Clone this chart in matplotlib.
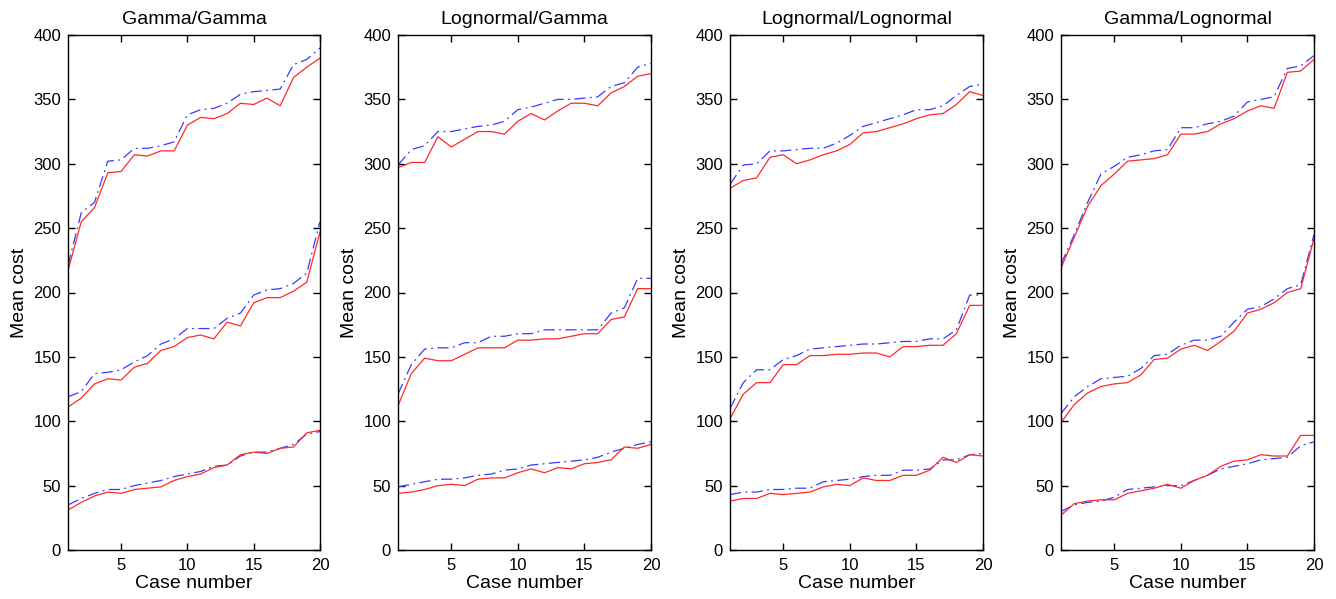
import matplotlib
matplotlib.use("Agg")
import matplotlib.pyplot as plt
import numpy as np

plt.rcParams['font.family'] = ['Liberation Sans', 'DejaVu Sans']

case_numbers = list(range(1, 21))
titles = ["Gamma/Gamma", "Lognormal/Gamma", "Lognormal/Lognormal", "Gamma/Lognormal"]

# Gamma/Gamma
gg_red_top = [217, 255, 266, 293, 294, 307, 306, 310, 310, 330, 336, 335, 339, 347, 346, 351, 345, 367, 375, 382]
gg_blue_top = [221, 262, 270, 302, 303, 312, 312, 314, 317, 338, 342, 343, 347, 354, 356, 357, 358, 377, 381, 390]
gg_red_mid = [111, 118, 129, 133, 132, 142, 145, 155, 158, 165, 167, 164, 177, 174, 192, 196, 196, 201, 208, 247]
gg_blue_mid = [119, 123, 137, 138, 140, 146, 151, 160, 164, 172, 172, 172, 180, 184, 198, 202, 203, 207, 215, 255]
gg_red_low = [31, 37, 42, 45, 44, 47, 48, 49, 54, 57, 59, 64, 66, 74, 76, 75, 79, 80, 91, 93]
gg_blue_low = [35, 40, 44, 47, 47, 50, 52, 54, 57, 59, 61, 65, 66, 73, 76, 76, 79, 82, 90, 92]

# Lognormal/Gamma
lg_red_top = [297, 301, 301, 321, 313, 319, 325, 325, 323, 333, 339, 334, 341, 347, 347, 345, 355, 360, 368, 370]
lg_blue_top = [299, 311, 314, 325, 325, 327, 329, 330, 333, 342, 344, 347, 350, 350, 351, 352, 360, 363, 375, 378]
lg_red_mid = [112, 137, 149, 147, 147, 152, 157, 157, 157, 163, 163, 164, 164, 166, 168, 168, 179, 181, 203, 203]
lg_blue_mid = [121, 144, 156, 157, 157, 161, 161, 166, 166, 168, 168, 171, 171, 171, 171, 171, 184, 188, 211, 211]
lg_red_low = [44, 45, 47, 50, 51, 50, 55, 56, 56, 60, 63, 60, 64, 63, 67, 68, 70, 80, 79, 82]
lg_blue_low = [49, 51, 53, 55, 55, 56, 58, 59, 62, 63, 66, 67, 68, 69, 70, 72, 76, 79, 82, 84]

# Lognormal/Lognormal
ll_red_top = [281, 287, 289, 305, 307, 300, 303, 307, 310, 315, 324, 325, 328, 331, 335, 338, 339, 346, 356, 353]
ll_blue_top = [284, 299, 300, 310, 310, 311, 312, 312, 316, 322, 329, 332, 335, 338, 342, 342, 345, 353, 360, 362]
ll_red_mid = [102, 121, 130, 130, 144, 144, 151, 151, 152, 152, 153, 153, 150, 158, 158, 159, 159, 168, 190, 190]
ll_blue_mid = [110, 130, 140, 140, 148, 151, 156, 157, 158, 159, 160, 160, 161, 162, 162, 164, 164, 171, 198, 198]
ll_red_low = [38, 40, 40, 44, 43, 44, 45, 49, 51, 50, 56, 54, 54, 58, 58, 62, 72, 68, 74, 73]
ll_blue_low = [43, 45, 45, 47, 47, 48, 48, 53, 54, 55, 57, 58, 58, 62, 62, 63, 70, 70, 74, 75]

# Gamma/Lognormal
gl_red_top = [219, 243, 267, 283, 292, 302, 303, 304, 307, 323, 323, 325, 331, 335, 341, 345, 343, 371, 372, 381]
gl_blue_top = [222, 245, 270, 292, 298, 305, 307, 310, 311, 328, 328, 331, 333, 337, 348, 350, 352, 374, 376, 384]
gl_red_mid = [99, 113, 122, 127, 129, 130, 136, 148, 149, 156, 159, 155, 162, 170, 184, 187, 192, 200, 203, 242]
gl_blue_mid = [106, 119, 127, 133, 134, 135, 141, 151, 152, 159, 163, 163, 166, 177, 187, 189, 195, 203, 206, 245]
gl_red_low = [27, 36, 38, 39, 39, 44, 46, 48, 51, 48, 54, 58, 65, 69, 70, 74, 73, 73, 89, 89]
gl_blue_low = [30, 35, 37, 38, 41, 47, 48, 49, 50, 50, 54, 58, 63, 65, 67, 70, 71, 72, 81, 84]

panels = [
    (gg_red_top, gg_blue_top, gg_red_mid, gg_blue_mid, gg_red_low, gg_blue_low),
    (lg_red_top, lg_blue_top, lg_red_mid, lg_blue_mid, lg_red_low, lg_blue_low),
    (ll_red_top, ll_blue_top, ll_red_mid, ll_blue_mid, ll_red_low, ll_blue_low),
    (gl_red_top, gl_blue_top, gl_red_mid, gl_blue_mid, gl_red_low, gl_blue_low),
]

fig = plt.figure(figsize=(13.36, 5.99), dpi=100)
lefts = [68, 398, 730, 1061]
widths = [252, 253, 253, 253]
W, H = 1336, 599
bottom = (H - 550) / H
height = 515 / H

for i, (series, title) in enumerate(zip(panels, titles)):
    ax = fig.add_axes([lefts[i] / W, bottom, widths[i] / W, height])
    rt, bt, rm, bm, rl, bl = series
    for red, blue in ((rt, bt), (rm, bm), (rl, bl)):
        ax.plot(case_numbers, blue, color='#3a3aff', linestyle=(0, (9, 3.5, 1.5, 3.5)),
                linewidth=0.9)
        ax.plot(case_numbers, red, color='#ff2a2a', linestyle='-', linewidth=0.9)
    ax.set_xlim(1, 20)
    ax.set_ylim(0, 400)
    ax.set_xticks([5, 10, 15, 20])
    ax.set_yticks(np.arange(0, 401, 50))
    ax.tick_params(direction='in', top=True, right=True, labelsize=12, length=5, width=1)
    ax.tick_params(axis='x', pad=6)
    ax.tick_params(axis='y', pad=5)
    for s in ax.spines.values():
        s.set_linewidth(1.0)
    ax.set_xlabel("Case number", fontsize=14, labelpad=1)
    ax.set_ylabel("Mean cost", fontsize=14, labelpad=4)
    ax.set_title(title, fontsize=14, pad=8)

fig.savefig("out.png", dpi=100)
